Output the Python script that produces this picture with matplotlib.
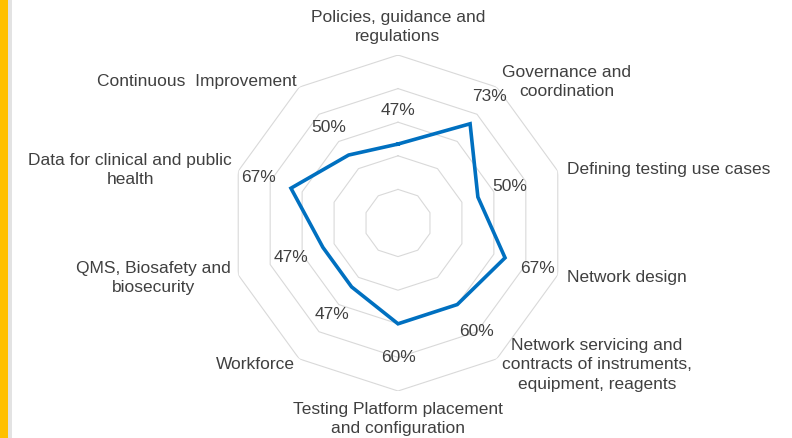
import numpy as np
import matplotlib
matplotlib.use("Agg")
import matplotlib.pyplot as plt
from matplotlib.patches import Rectangle

plt.rcParams['font.family'] = ['Liberation Sans', 'DejaVu Sans']

categories = [
    "Policies, guidance and\nregulations",
    "Governance and\ncoordination",
    "Defining testing use cases",
    "Network design",
    "Network servicing and\ncontracts of instruments,\nequipment, reagents",
    "Testing Platform placement\nand configuration",
    "Workforce",
    "QMS, Biosafety and\nbiosecurity",
    "Data for clinical and public\nhealth",
    "Continuous  Improvement",
]
values = [47, 73, 50, 67, 60, 60, 47, 47, 67, 50]
ring_levels = [20, 40, 60, 80, 100]

# label placement: (offset px x, offset px y (up positive), ha)
label_style = [
    (0, 28, 'center'),
    (70, 5, 'center'),
    (9, 2, 'left'),
    (9, -3, 'left'),
    (100, -6, 'center'),
    (0, -28, 'center'),
    (-4, -6, 'right'),
    (-7, -3, 'right'),
    (-6, 1, 'right'),
    (-3, 6, 'right'),
]

W, H = 792, 438
fig = plt.figure(figsize=(W / 100, H / 100), dpi=100)
fig.patch.set_facecolor('white')
fig.patches.append(Rectangle((0, 0), 8 / W, 1, transform=fig.transFigure,
                             facecolor='#FFC000', edgecolor='none'))
fig.patches.append(Rectangle((8 / W, 0), 4 / W, 1, transform=fig.transFigure,
                             facecolor='#E3E3E3', edgecolor='none'))

cx, cy, R = 398, 223, 168
ax = fig.add_axes([(cx - R) / W, (H - cy - R) / H, 2 * R / W, 2 * R / H],
                  projection='polar')
ax.set_theta_zero_location('N')
ax.set_theta_direction(-1)
ax.set_ylim(0, 100)
ax.grid(False)
ax.spines['polar'].set_visible(False)
ax.set_xticks([])
ax.set_yticks([])
ax.patch.set_alpha(0)

n = len(categories)
theta = np.arange(n) * 2 * np.pi / n
theta_c = np.append(theta, theta[0])

for lvl in ring_levels:
    ax.plot(theta_c, [lvl] * (n + 1), color='#D9D9D9', lw=0.8, zorder=1)

vals_c = np.append(values, values[0])
ax.plot(theta_c, vals_c, color='#0070C0', lw=2.6, zorder=3,
        solid_joinstyle='miter')

txt_color = '#404040'
fs = 12.5
for t, v in zip(theta, values):
    ax.text(t, v + 20, f"{v}%", ha='center', va='center', fontsize=fs,
            color=txt_color, zorder=4)

for t, lab, (ox, oy, ha) in zip(theta, categories, label_style):
    ax.annotate(lab, xy=(t, 100), xytext=(ox, oy), textcoords='offset pixels',
                ha=ha, va='center', multialignment='center', fontsize=fs,
                linespacing=1.35, color=txt_color, annotation_clip=False)

fig.savefig('out.png', dpi=100)
